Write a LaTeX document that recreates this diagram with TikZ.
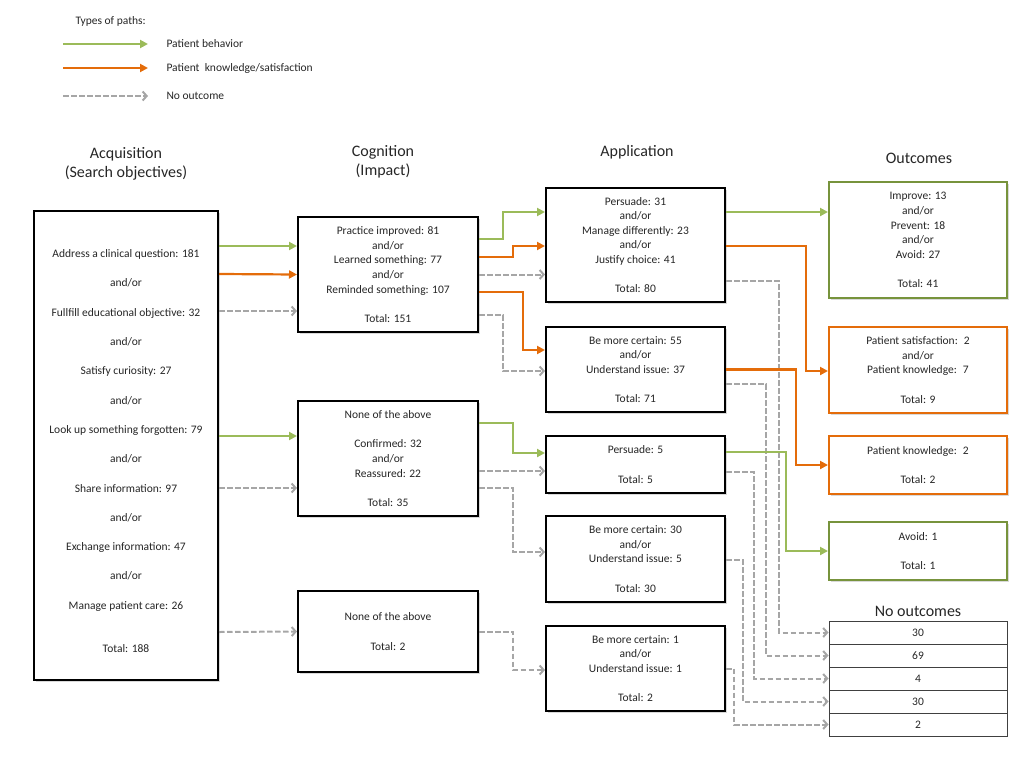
\documentclass[tikz,border=0pt]{standalone}
\usepackage{fontspec}
\setmainfont{Carlito}
\usepackage{tikz}
\usetikzlibrary{arrows.meta,shadows}
\definecolor{pgreen}{HTML}{9BBB59}
\definecolor{pgreenb}{HTML}{77933C}
\definecolor{porange}{HTML}{E46C0A}
\definecolor{pgray}{HTML}{A6A6A6}

\begin{document}
\begin{tikzpicture}[x=1pt,y=-1pt,font=\fontsize{11.5}{14.6}\selectfont,text=black!85,
  box/.style={draw=black,line width=2pt,fill=white,align=center,inner sep=0pt,
    drop shadow={shadow xshift=1.5pt,shadow yshift=-1.5pt,opacity=0.3}},
  gbox/.style={box,draw=pgreenb},
  obox/.style={box,draw=porange},
  cell/.style={draw=black!75,line width=1pt,minimum width=178pt,minimum height=23pt,inner sep=0pt},
  hdr/.style={font=\fontsize{16}{19}\selectfont,align=center},
  gpath/.style={draw=pgreen,line width=2.2pt,-{Triangle[length=8pt,width=8pt]}},
  opath/.style={draw=porange,line width=2.2pt,-{Triangle[length=8pt,width=8pt]}},
  npath/.style={draw=pgray,line width=2pt,dash pattern=on 5.5pt off 2.5pt,-{Straight Barb[length=4pt,width=9pt]}}]
\useasboundingbox (0,0) rectangle (1024,768);

\node[anchor=west] (types) at (72,21) {Types of paths:};
\node[anchor=west] (lgb) at (163,44) {Patient behavior};
\node[anchor=west] (lgk) at (163,68) {Patient~ knowledge/satisfaction};
\node[anchor=west] (lgn) at (163,96) {No outcome};
\coordinate (lg1) at (63,44);
\coordinate (lg2) at (63,68);
\coordinate (lg3) at (63,96);
\draw[gpath] (lg1) -- ([xshift=-15pt]lgb.west);
\draw[opath] (lg2) -- ([xshift=-15pt]lgk.west);
\draw[npath] (lg3) -- ([xshift=-15pt]lgn.west);

\node[hdr] (hacq) at (126,163.5) {Acquisition\\(Search objectives)};
\node[hdr] (hcog) at (383,161.5) {Cognition\\(Impact)};
\node[hdr] (happ) at (637,152) {Application};
\node[hdr] (hout) at (919,158) {Outcomes};
\node[hdr] (hnone) at (918,611) {No outcomes};

\node[box,minimum width=184pt,minimum height=469pt] (acq) at (126,445.5) {};
\node[align=center,font=\fontsize{11.5}{29.3}\selectfont] (acqtext) at (126,451)
  {Address a clinical question: 181\\and/or\\Fullfill educational objective: 32\\and/or\\Satisfy curiosity: 27\\and/or\\Look up something forgotten: 79\\and/or\\Share information: 97\\and/or\\Exchange information: 47\\and/or\\Manage patient care: 26\\[13.7pt]Total: 188};

\node[box,minimum width=180pt,minimum height=115pt] (c1) at (388,274.5)
  {Practice improved: 81\\and/or\\Learned something: 77\\and/or\\Reminded something: 107\\[14.6pt]Total: 151};
\node[box,minimum width=180pt,minimum height=115pt] (c2) at (388,458.5)
  {None of the above\\[14.6pt]Confirmed: 32\\and/or\\Reassured: 22\\[14.6pt]Total: 35};
\node[box,minimum width=180pt,minimum height=81pt] (c3) at (388,631.5)
  {None of the above\\[14.6pt]Total: 2};

\node[box,minimum width=179pt,minimum height=114pt] (a1) at (635.5,245)
  {Persuade: 31\\and/or\\Manage differently: 23\\and/or\\Justify choice: 41\\[14.6pt]Total: 80};
\node[box,minimum width=179pt,minimum height=85pt] (a2) at (635.5,369.5)
  {Be more certain: 55\\and/or\\Understand issue: 37\\[14.6pt]Total: 71};
\node[box,minimum width=179pt,minimum height=57pt] (a3) at (635.5,464.5)
  {Persuade: 5\\[14.6pt]Total: 5};
\node[box,minimum width=179pt,minimum height=86pt] (a4) at (635.5,559)
  {Be more certain: 30\\and/or\\Understand issue: 5\\[14.6pt]Total: 30};
\node[box,minimum width=179pt,minimum height=85pt] (a5) at (635.5,668.5)
  {Be more certain: 1\\and/or\\Understand issue: 1\\[14.6pt]Total: 2};

\node[gbox,minimum width=178pt,minimum height=116pt] (o1) at (918,240)
  {Improve: 13\\and/or\\Prevent: 18\\and/or\\Avoid: 27\\[14.6pt]Total: 41};
\node[obox,minimum width=178pt,minimum height=86pt] (o2) at (918,370)
  {Patient satisfaction:~ 2\\and/or\\Patient knowledge:~ 7\\[14.6pt]Total: 9};
\node[obox,minimum width=178pt,minimum height=58pt] (o3) at (918,465)
  {Patient knowledge:~ 2\\[14.6pt]Total: 2};
\node[gbox,minimum width=178pt,minimum height=58pt] (o4) at (918,551)
  {Avoid: 1\\[14.6pt]Total: 1};

\node[cell] (n1) at (918,632.5) {30};
\node[cell] (n2) at (918,655.5) {69};
\node[cell] (n3) at (918,678.5) {4};
\node[cell] (n4) at (918,701.5) {30};
\node[cell] (n5) at (918,724.5) {2};

\draw[gpath] ([yshift=199.5pt]acq.east) -- ([yshift=28.5pt]c1.west);
\draw[opath] ([yshift=171.5pt]acq.east) -- (c1.west);
\draw[npath] ([yshift=134.5pt]acq.east) -- ([yshift=-36.5pt]c1.west);
\draw[gpath] ([yshift=9.5pt]acq.east) -- ([yshift=22.5pt]c2.west);
\draw[npath] ([yshift=-42.5pt]acq.east) -- ([yshift=-29.5pt]c2.west);
\draw[npath] ([yshift=-186.5pt]acq.east) -- (c3.west);

\draw[gpath] ([yshift=35.5pt]c1.east) -- ++(24,0) |- ([yshift=33pt]a1.west);
\draw[opath] ([yshift=17.5pt]c1.east) -- ++(34,0) |- ([yshift=-1pt]a1.west);
\draw[npath] (c1.east) -- ([yshift=-29.5pt]a1.west);
\draw[opath] ([yshift=-17.5pt]c1.east) -- ++(44,0) |- ([yshift=19.5pt]a2.west);
\draw[npath] ([yshift=-40.5pt]c1.east) -- ++(24,0) |- ([yshift=-1.5pt]a2.west);
\draw[gpath] ([yshift=35.5pt]c2.east) -- ++(34,0) |- ([yshift=11.5pt]a3.west);
\draw[npath] ([yshift=-12.5pt]c2.east) -- ([yshift=-6.5pt]a3.west);
\draw[npath] ([yshift=-29.5pt]c2.east) -- ++(34,0) |- ([yshift=7pt]a4.west);
\draw[npath] (c3.east) -- ++(34,0) |- ([yshift=-1.5pt]a5.west);

\draw[gpath] ([yshift=33pt]a1.east) -- ([yshift=28pt]o1.west);
\draw[opath] ([yshift=-1pt]a1.east) -- ++(80,0) |- ([yshift=-1pt]o2.west);
\draw[npath] ([yshift=-36pt]a1.east) -- ++(53,0) |- (n1.west);
\draw[opath] (a2.east) -- ++(70,0) |- (o3.west);
\draw[npath] ([yshift=-14.5pt]a2.east) -- ++(40,0) |- (n2.west);
\draw[gpath] ([yshift=12.5pt]a3.east) -- ++(60,0) |- (o4.west);
\draw[npath] ([yshift=-7.5pt]a3.east) -- ++(28,0) |- (n3.west);
\draw[npath] ([yshift=-1pt]a4.east) -- ++(17,0) |- (n4.west);
\draw[npath] (a5.east) -- ++(8,0) |- (n5.west);
\end{tikzpicture}
\end{document}
